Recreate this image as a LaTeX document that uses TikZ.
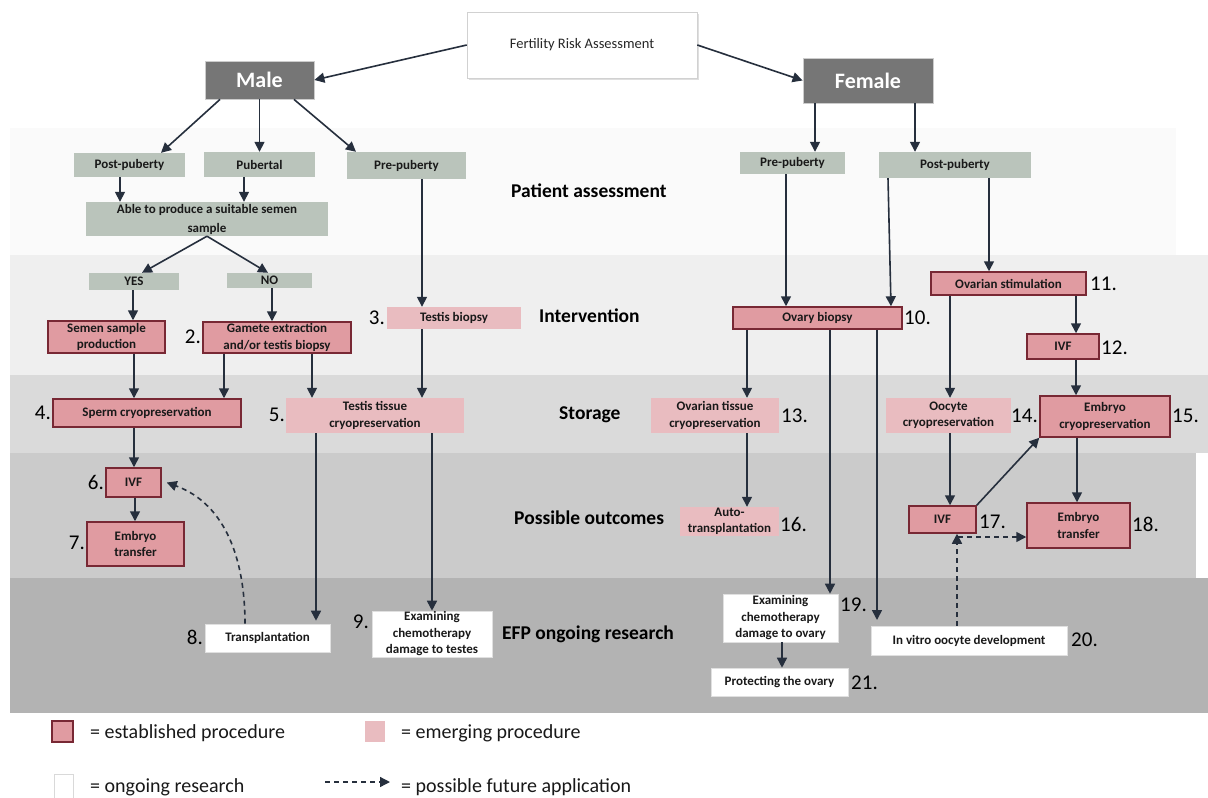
\documentclass[tikz,border=0pt]{standalone}
\usepackage{fontspec}
\setmainfont{Carlito}
\usetikzlibrary{arrows.meta,shadows}
\definecolor{estc}{RGB}{224,155,161}
\definecolor{estb}{RGB}{120,40,52}
\definecolor{emgc}{RGB}{233,188,192}
\definecolor{grayg}{RGB}{186,196,187}
\definecolor{darkbox}{RGB}{118,118,118}
\definecolor{arrc}{RGB}{38,47,61}
\definecolor{bandA}{RGB}{250,250,250}
\definecolor{bandB}{RGB}{239,239,239}
\definecolor{bandC}{RGB}{218,218,218}
\definecolor{bandD}{RGB}{203,203,203}
\definecolor{bandE}{RGB}{179,179,179}
\definecolor{txt}{RGB}{25,25,25}
\begin{document}
\begin{tikzpicture}[x=1pt,y=-1pt,
  sz/.style n args={2}{minimum width=#1,minimum height=#2},
  base/.style={inner sep=0pt,align=center,text=txt,font=\fontsize{13}{16.5}\selectfont\bfseries},
  gbox/.style={base,fill=grayg},
  est/.style={base,fill=estc,draw=estb,line width=1.5pt},
  emg/.style={base,fill=emgc},
  res/.style={base,fill=white,draw=black!12,line width=0.6pt},
  sexbox/.style={inner sep=0pt,fill=darkbox,draw=black!20,line width=0.8pt,text=white,font=\fontsize{22}{24}\selectfont\bfseries},
  num/.style={inner sep=0pt,text=black,font=\fontsize{21}{24}\selectfont},
  sect/.style={inner sep=0pt,anchor=west,text=black,font=\fontsize{19.5}{22}\selectfont\bfseries},
  legt/.style={inner sep=0pt,text=black!90,font=\fontsize{20}{22}\selectfont},
  arr/.style={draw=arrc,line width=1.6pt,-{Triangle[length=10pt,width=10pt]}},
  darr/.style={draw=arrc,line width=1.6pt,dash pattern=on 5pt off 4pt,-{Triangle[length=10pt,width=10pt]}}
]
\useasboundingbox (0,0) rectangle (1208,798);
\fill[white] (0,0) rectangle (1208,798);
% bands
\fill[bandA] (10,128) rectangle (1176,255);
\fill[bandB] (10,255) rectangle (1208,375);
\fill[bandC] (10,375) rectangle (1208,453);
\fill[bandD] (10,453) rectangle (1196,578);
\fill[bandE] (10,578) rectangle (1208,713);
% section labels
\node[sect] (lpa) at (511,191) {Patient assessment};
\node[sect] (lin) at (539,316) {Intervention};
\node[sect] (lst) at (559,415) {Storage};
\node[sect] (lpo) at (514,518) {Possible outcomes};
\node[sect] (lefp) at (502,634) {EFP ongoing research};
% top
\node[fill=white,draw=black!18,line width=0.6pt,sz={230pt}{66pt},inner sep=0pt,
  drop shadow={shadow xshift=1.5pt,shadow yshift=-1.5pt,opacity=0.25},
  font=\fontsize{14.5}{16}\selectfont,text=black!85] (fra) at (582,45) {Fertility Risk Assessment};
\node[sexbox,sz={109pt}{38pt}] (male) at (259.5,80) {Male};
\node[sexbox,sz={130pt}{45pt}] (female) at (868,80.5) {Female};
% male side
\node[gbox,sz={111pt}{24pt}] (mpost) at (129.5,165) {Post-puberty};
\node[gbox,sz={111pt}{25pt}] (pub) at (259.5,164.5) {Pubertal};
\node[gbox,sz={119pt}{27pt}] (mpre) at (406.5,165.5) {Pre-puberty};
\node[gbox,sz={242pt}{34pt},font=\fontsize{13}{19}\selectfont\bfseries] (able) at (207,219) {Able to produce a suitable semen\\sample};
\node[gbox,sz={90pt}{17pt}] (yes) at (134,281.5) {YES};
\node[gbox,sz={85pt}{15pt}] (no) at (269.5,280.5) {NO};
\node[est,sz={117pt}{32pt}] (semen) at (106.5,337) {Semen sample\\production};
\node[est,sz={148pt}{31pt}] (gamete) at (277,337.5) {Gamete extraction\\and/or testis biopsy};
\node[emg,sz={134pt}{22pt}] (tbiop) at (454,318) {Testis biopsy};
\node[est,sz={188pt}{28pt}] (sperm) at (147,413) {Sperm cryopreservation};
\node[emg,sz={178pt}{35pt}] (ttis) at (375,415.5) {Testis tissue\\cryopreservation};
\node[est,sz={55pt}{29pt}] (ivfa) at (133.5,482.5) {IVF};
\node[est,sz={97pt}{44pt}] (eta) at (135.5,544) {Embryo\\transfer};
\node[res,sz={125pt}{28pt}] (transp) at (267.5,638) {Transplantation};
\node[res,sz={120pt}{46pt}] (examt) at (432,634) {Examining\\chemotherapy\\damage to testes};
% female side
\node[gbox,sz={105pt}{22pt}] (fpre) at (792.5,163) {Pre-puberty};
\node[gbox,sz={152pt}{26pt}] (fpost) at (955,165) {Post-puberty};
\node[est,sz={169pt}{22pt}] (obiop) at (817.5,318) {Ovary biopsy};
\node[est,sz={155pt}{23pt}] (ostim) at (1008.5,283.5) {Ovarian stimulation};
\node[est,sz={72pt}{25pt}] (ivfb) at (1063,346.5) {IVF};
\node[emg,sz={128pt}{35pt}] (otis) at (715,415.5) {Ovarian tissue\\cryopreservation};
\node[emg,sz={125pt}{35pt}] (oocyte) at (948.5,415.5) {Oocyte\\cryopreservation};
\node[est,sz={130pt}{41pt}] (ecryo) at (1105,416.5) {Embryo\\cryopreservation};
\node[emg,sz={99pt}{29pt}] (auto) at (729.5,521.5) {Auto-\\transplantation};
\node[est,sz={67pt}{27pt}] (ivfc) at (942.5,519.5) {IVF};
\node[est,sz={103pt}{45pt}] (etb) at (1078.5,525.5) {Embryo\\transfer};
\node[res,sz={115pt}{48pt}] (examo) at (780.5,618) {Examining\\chemotherapy\\damage to ovary};
\node[res,sz={137pt}{28pt}] (prot) at (779.5,682) {Protecting the ovary};
\node[res,sz={196pt}{29pt}] (invitro) at (969,640.5) {In vitro oocyte development};
% numbers
\node[num,anchor=east] (n2) at (201,337) {2.};
\node[num,anchor=east] (n3) at (385,318) {3.};
\node[num,anchor=east] (n4) at (51,413) {4.};
\node[num,anchor=east] (n5) at (285,415) {5.};
\node[num,anchor=east] (n6) at (104,482) {6.};
\node[num,anchor=east] (n7) at (85,543) {7.};
\node[num,anchor=east] (n8) at (203,637) {8.};
\node[num,anchor=east] (n9) at (369,622) {9.};
\node[num,anchor=west] (n10) at (904,318) {10.};
\node[num,anchor=west] (n11) at (1090,284) {11.};
\node[num,anchor=west] (n12) at (1101,348) {12.};
\node[num,anchor=west] (n13) at (781,416) {13.};
\node[num,anchor=west] (n14) at (1011,416) {14.};
\node[num,anchor=west] (n15) at (1172,416) {15.};
\node[num,anchor=west] (n16) at (780,524) {16.};
\node[num,anchor=west] (n17) at (979,522) {17.};
\node[num,anchor=west] (n18) at (1132,524) {18.};
\node[num,anchor=west] (n19) at (840,605) {19.};
\node[num,anchor=west] (n20) at (1071,640) {20.};
\node[num,anchor=west] (n21) at (851,683) {21.};
% column coordinates
\foreach \c in {120,133,134,135,142,161,220,224,244,245,268,272,294,312,316,356,422,432,
  747,782,786,815,830,877,888,891,915,950,957,989,1076,1077}{\coordinate (x\c) at (\c,0);}
\coordinate (endv) at (877,620);
\coordinate (hst) at (958,537);
% male connectors
\draw[arr] (fra.west) -- (male.east);
\draw[arr] (fra.east) -- (female.west);
\draw[arr] (male.south -| x220) -- (mpost.north -| x161);
\draw[arr] (male.south) -- (pub.north);
\draw[arr] (male.south -| x294) -- (mpre.north -| x356);
\draw[arr] (mpost.south -| x120) -- (able.north -| x120);
\draw[arr] (pub.south -| x244) -- (able.north -| x244);
\draw[arr] (able.south) -- (yes.north -| x142);
\draw[arr] (able.south) -- (no.north -| x268);
\draw[arr] (yes.south -| x133) -- (semen.north -| x133);
\draw[arr] (no.south -| x272) -- (gamete.north -| x272);
\draw[arr] (mpre.south -| x422) -- (tbiop.north -| x422);
\draw[arr] (semen.south -| x134) -- (sperm.north -| x134);
\draw[arr] (gamete.south -| x224) -- (sperm.north -| x224);
\draw[arr] (gamete.south -| x312) -- (ttis.north -| x312);
\draw[arr] (tbiop.south -| x422) -- (ttis.north -| x422);
\draw[arr] (sperm.south -| x134) -- (ivfa.north -| x134);
\draw[arr] (ivfa.south -| x135) -- (eta.north -| x135);
\draw[arr,shorten >=3pt] (ttis.south -| x316) -- (transp.north -| x316);
\draw[arr] (ttis.south -| x432) -- (examt.north -| x432);
\draw[darr] (transp.north -| x245) to[out=90,in=-20] ([xshift=5pt]ivfa.east);
% female connectors
\draw[arr] (female.south -| x815) -- (fpre.north -| x815);
\draw[arr] (female.south -| x915) -- (fpost.north -| x915);
\draw[arr] (fpre.south -| x786) -- (obiop.north -| x786);
\draw[arr] (fpost.south -| x888) -- (obiop.north -| x891);
\draw[arr] (fpost.south -| x989) -- (ostim.north -| x989);
\draw[arr] (ostim.south -| x1076) -- (ivfb.north -| x1076);
\draw[arr] (ostim.south -| x950) -- (oocyte.north -| x950);
\draw[arr] (ivfb.south -| x1076) -- (ecryo.north -| x1076);
\draw[arr] (obiop.south -| x747) -- (otis.north -| x747);
\draw[arr] (obiop.south -| x830) -- (examo.north -| x830);
\draw[arr] (obiop.south -| x877) -- (endv);
\draw[arr] (otis.south -| x747) -- (auto.north -| x747);
\draw[arr] (oocyte.south -| x950) -- (ivfc.north -| x950);
\draw[arr] (ivfc.north east) -- (ecryo.south west);
\draw[arr] (ecryo.south -| x1077) -- (etb.north -| x1077);
\draw[arr] (examo.south -| x782) -- (prot.north -| x782);
\draw[darr] (invitro.north -| x957) -- (ivfc.south -| x957);
\draw[darr] (hst) -- (hst -| etb.west);
% legend
\node[est,sz={21pt}{21pt}] (lg1) at (62.5,731.5) {};
\node[legt,anchor=west] (lt1) at (90,733) {= established procedure};
\node[emg,sz={20pt}{21pt}] (lg2) at (375,731.5) {};
\node[legt,anchor=west] (lt2) at (401,733) {= emerging procedure};
\node[fill=white,draw=black!15,line width=0.6pt,inner sep=0pt,sz={19pt}{24pt}] (lg3) at (63.5,786) {};
\node[legt,anchor=base west] (lt3) at (90,792) {= ongoing research};
\coordinate (lda) at (325,782);
\coordinate (ldb) at (390,782);
\draw[darr,line width=1.3pt,dash pattern=on 5pt off 4pt] (lda) -- (ldb);
\node[legt,anchor=base west] (lt4) at (401,792) {= possible future application};
\end{tikzpicture}
\end{document}
